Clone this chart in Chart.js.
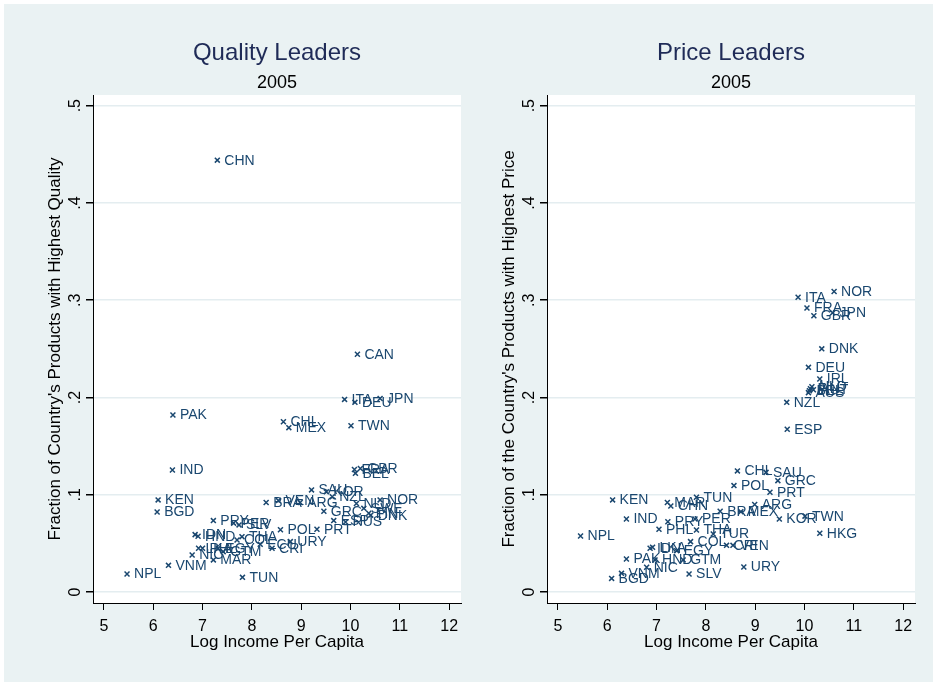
<!DOCTYPE html>
<html>
<head>
<meta charset="utf-8">
<script src="https://cdn.jsdelivr.net/npm/chart.js@4/dist/chart.umd.min.js"></script>
<style>
  body { margin: 0; background: #fff; }
  #bg { position: absolute; left: 4px; top: 4px; width: 929px; height: 678px; background: #eaf2f3; }
  canvas { position: absolute; top: 0; }
  #quality { left: 0; }
  #price { left: 454px; }
</style>
</head>
<body>
<div id="bg"></div>
<canvas id="quality" width="468" height="686"></canvas>
<canvas id="price" width="468" height="686"></canvas>
<script>
// quality leaders panel
const qualityCountries = ['CHN','CAN','ITA','DEU','JPN','PAK','CHL','MEX','TWN','IND','FRA','GBR','BEL',
  'KEN','BGD','SAU','KOR','NZL','BRA','VEN','ARG','GRC','ESP','RUS','NOR','NLD','SWE','FIN','DNK',
  'POL','PRT','URY','CRI','ECU','TUN','PRY','PER','SLV','IDN','HND','THA','COL','LKA','PHL','EGY',
  'GTM','NIC','MAR','NPL','VNM'];
const qualityLogIncome = [7.30,10.14,9.88,10.09,10.60,6.40,8.64,8.75,10.01,6.39,10.08,10.20,10.10,
  6.10,6.08,9.21,9.51,9.63,8.29,8.54,8.98,9.46,9.66,9.90,10.60,10.12,10.27,10.37,10.41,
  8.58,9.32,8.78,8.41,8.17,7.81,7.22,7.63,7.74,6.85,6.91,7.80,7.70,6.92,7.00,7.32,
  7.42,6.79,7.22,5.47,6.31];
const qualityShare = [0.444,0.2445,0.198,0.195,0.199,0.182,0.175,0.169,0.171,0.1255,0.126,0.127,0.122,
  0.0947,0.0823,0.105,0.103,0.098,0.092,0.094,0.092,0.083,0.0734,0.072,0.0947,0.091,0.086,0.081,0.079,
  0.064,0.0645,0.0518,0.045,0.049,0.0151,0.0734,0.0708,0.069,0.059,0.0574,0.0569,0.0535,0.045,0.045,0.045,
  0.0415,0.038,0.033,0.0185,0.0274];

// price leaders panel
const priceCountries = ['NOR','ITA','FRA','GBR','JPN','DNK','DEU','IRL','AUS','FIN','NLD','AUT','BEL',
  'NZL','ESP','CHL','SAU','GRC','POL','PRT','ARG','BRA','MEX','KOR','TWN','HKG','TUR','CRI','VEN',
  'URY','SLV','KEN','MAR','TUN','CHN','IND','PRY','PER','PHL','THA','COL','IDN','LKA','EGY','PAK',
  'HND','GTM','NIC','VNM','BGD','NPL'];
const priceLogIncome = [10.60,9.87,10.05,10.19,10.57,10.35,10.08,10.31,10.08,10.12,10.15,10.18,10.10,
  9.64,9.65,8.64,9.22,9.46,8.57,9.30,8.99,8.29,8.71,9.49,10.01,10.31,8.15,8.42,8.55,
  8.77,7.66,6.11,7.22,7.81,7.29,6.39,7.23,7.78,7.05,7.81,7.69,6.87,6.92,7.41,6.39,
  6.97,7.54,6.80,6.29,6.09,5.46];
const priceShare = [0.309,0.303,0.292,0.284,0.287,0.250,0.231,0.219,0.205,0.209,0.211,0.208,0.207,
  0.195,0.1674,0.1245,0.123,0.1145,0.1094,0.1026,0.090,0.083,0.0826,0.0751,0.078,0.0604,0.0597,0.048,0.048,
  0.0257,0.0185,0.0947,0.092,0.0974,0.0885,0.075,0.0723,0.075,0.0645,0.0638,0.0518,0.045,0.046,0.0425,0.034,
  0.033,0.033,0.0254,0.0192,0.014,0.0576];

const xTicks = [5, 6, 7, 8, 9, 10, 11, 12];
const yTicks = [0, 0.1, 0.2, 0.3, 0.4, 0.5];
const yTickLabels = ['0', '.1', '.2', '.3', '.4', '.5'];

const navy = '#1a476f';
const fontFamily = '"Liberation Sans", Arial, sans-serif';
Chart.defaults.font.family = fontFamily;

// white plot region
const plotBackground = {
  id: 'plotBackground',
  beforeDraw(chart) {
    const {ctx, chartArea: a} = chart;
    ctx.save();
    ctx.fillStyle = '#fff';
    ctx.fillRect(a.left, a.top, a.right - a.left, a.bottom - a.top);
    ctx.restore();
  }
};

// stata style vertical tick labels
const yTickText = {
  id: 'yTickText',
  afterDraw(chart) {
    const scale = chart.scales.y;
    const ctx = chart.ctx;
    ctx.save();
    ctx.font = '16px ' + fontFamily;
    ctx.fillStyle = '#000';
    ctx.textAlign = 'center';
    ctx.textBaseline = 'alphabetic';
    scale.ticks.forEach((t, i) => {
      const y = scale.getPixelForValue(t.value);
      ctx.save();
      ctx.translate(scale.right - 13, y);
      ctx.rotate(-Math.PI / 2);
      ctx.fillText(yTickLabels[i], 0, 0);
      ctx.restore();
    });
    ctx.restore();
  }
};

// country codes next to the markers
const markerLabels = {
  id: 'markerLabels',
  afterDatasetsDraw(chart) {
    const ctx = chart.ctx;
    const meta = chart.getDatasetMeta(0);
    const names = chart.data.labels;
    ctx.save();
    ctx.font = '14px ' + fontFamily;
    ctx.fillStyle = navy;
    ctx.textAlign = 'left';
    ctx.textBaseline = 'middle';
    meta.data.forEach((pt, i) => {
      ctx.fillText(names[i], pt.x + 7, pt.y + 0.5);
    });
    ctx.restore();
  }
};

function buildPanel(id, title, yTitle, names, xs, ys) {
  const ctx = document.getElementById(id).getContext('2d');
  return new Chart(ctx, {
    type: 'scatter',
    data: {
      labels: names,
      datasets: [{
        data: xs.map((x, i) => ({x: x, y: ys[i]})),
        pointStyle: 'crossRot',
        radius: 3.5,
        borderWidth: 1.5,
        borderColor: navy,
        backgroundColor: navy
      }]
    },
    options: {
      responsive: false,
      animation: false,
      devicePixelRatio: 1,
      layout: { padding: {left: 0, right: 7, top: 0, bottom: 0} },
      scales: {
        x: {
          type: 'linear',
          min: 4.78,
          max: 12.24,
          afterBuildTicks: s => { s.ticks = xTicks.map(v => ({value: v})); },
          afterFit: s => { s.height = 83; },
          grid: { drawOnChartArea: false, tickLength: 7, tickColor: '#000' },
          border: { color: '#000', width: 1 },
          ticks: { color: '#000', font: {size: 16}, padding: 7, maxRotation: 0 },
          title: { display: true, text: 'Log Income Per Capita', color: '#000',
                   font: {size: 17}, padding: {top: 0, bottom: 33} }
        },
        y: {
          type: 'linear',
          min: -0.0113,
          max: 0.511,
          afterBuildTicks: s => { s.ticks = yTicks.map(v => ({value: v})); },
          afterFit: s => { s.width = 93; },
          grid: { color: '#e4edf0', lineWidth: 1.5, tickLength: 7, tickColor: '#000' },
          border: { color: '#000', width: 1 },
          ticks: { display: false },
          title: { display: true, text: yTitle, color: '#000',
                   font: {size: 17}, padding: {top: 45, bottom: 0} }
        }
      },
      plugins: {
        legend: { display: false },
        tooltip: { enabled: false },
        title: { display: true, text: title, color: '#1f2b57', fullSize: false,
                 font: {size: 24, weight: 'normal'}, padding: {top: 38.6, bottom: 0} },
        subtitle: { display: true, text: '2005', color: '#000', fullSize: false,
                    font: {size: 18}, padding: {top: 4.8, bottom: 1.2} }
      }
    },
    plugins: [plotBackground, markerLabels, yTickText]
  });
}

buildPanel('quality', 'Quality Leaders', "Fraction of Country's Products with Highest Quality",
  qualityCountries, qualityLogIncome, qualityShare);
buildPanel('price', 'Price Leaders', "Fraction of the Country's Products with Highest Price",
  priceCountries, priceLogIncome, priceShare);
</script>
</body>
</html>
